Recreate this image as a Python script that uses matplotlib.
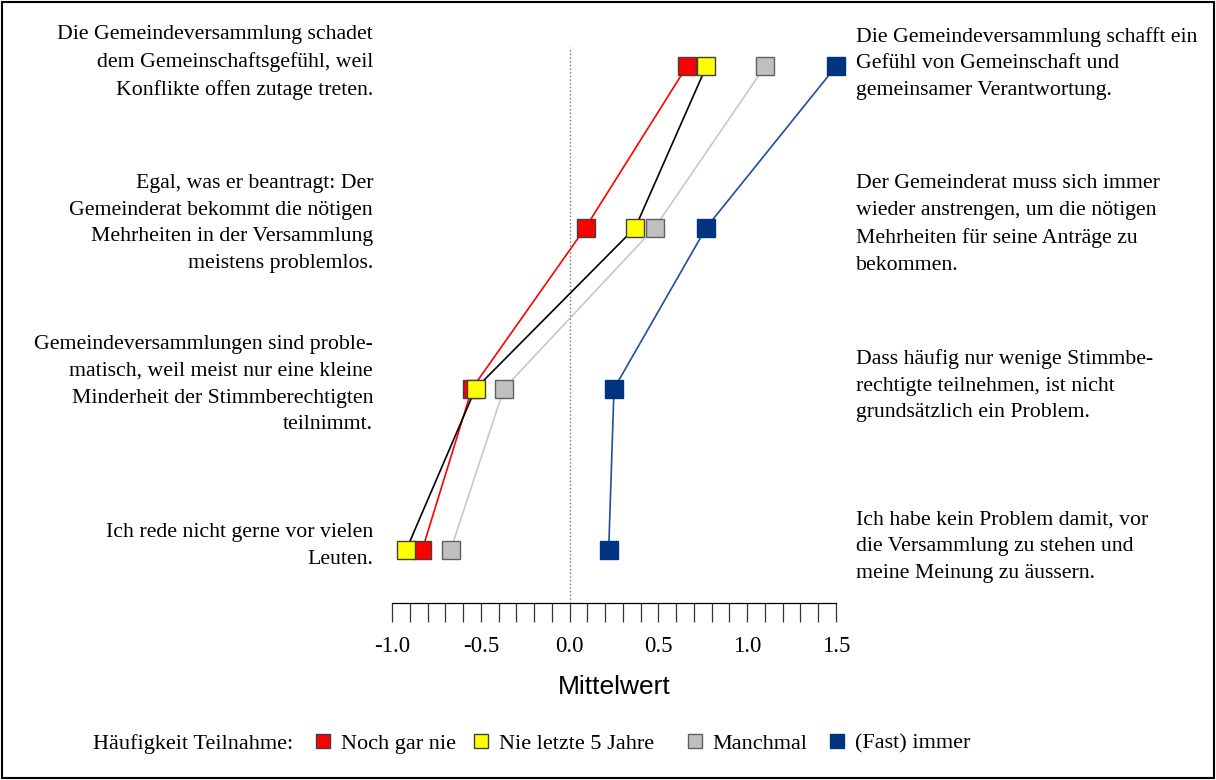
import matplotlib.pyplot as plt
from matplotlib.lines import Line2D
from matplotlib.patches import Rectangle

plt.rcParams['font.family'] = ['Liberation Serif', 'DejaVu Serif']

# items from top to bottom
items = [4, 3, 2, 1]
left_labels = [
    "Die Gemeindeversammlung schadet\ndem Gemeinschaftsgefühl, weil\nKonflikte offen zutage treten.",
    "Egal, was er beantragt: Der\nGemeinderat bekommt die nötigen\nMehrheiten in der Versammlung\nmeistens problemlos.",
    "Gemeindeversammlungen sind proble-\nmatisch, weil meist nur eine kleine\nMinderheit der Stimmberechtigten\nteilnimmt.",
    "Ich rede nicht gerne vor vielen\nLeuten.",
]
right_labels = [
    "Die Gemeindeversammlung schafft ein\nGefühl von Gemeinschaft und\ngemeinsamer Verantwortung.",
    "Der Gemeinderat muss sich immer\nwieder anstrengen, um die nötigen\nMehrheiten für seine Anträge zu\nbekommen.",
    "Dass häufig nur wenige Stimmbe-\nrechtigte teilnehmen, ist nicht\ngrundsätzlich ein Problem.",
    "Ich habe kein Problem damit, vor\ndie Versammlung zu stehen und\nmeine Meinung zu äussern.",
]

groups = ["Noch gar nie", "Nie letzte 5 Jahre", "Manchmal", "(Fast) immer"]
noch_gar_nie = [0.66, 0.09, -0.55, -0.83]
nie_5_jahre = [0.77, 0.37, -0.53, -0.92]
manchmal = [1.10, 0.48, -0.37, -0.67]
fast_immer = [1.50, 0.77, 0.25, 0.22]
series = [noch_gar_nie, nie_5_jahre, manchmal, fast_immer]

line_colors = ['#ff0000', '#000000', '#c8c8c8', '#1f4e9a']
face_colors = ['#ff0000', '#ffff00', '#c0c0c0', '#003380']
edge_colors = ['#404040', '#404040', '#606060', '#003380']

fig = plt.figure(figsize=(12.16, 7.8), dpi=100)
ax = fig.add_axes([0.3224, 0.2269, 0.3651, 0.7128])

ax.axvline(0, color='#777777', linestyle=':', linewidth=1.0, zorder=1)

for vals, lc, fc, ec in zip(series, line_colors, face_colors, edge_colors):
    ax.plot(vals, items, color=lc, linewidth=1.2, marker='s', markersize=12.5,
            markerfacecolor=fc, markeredgecolor=ec, markeredgewidth=1.0,
            clip_on=False, zorder=3)

ax.set_xlim(-1.0, 1.5)
ax.set_ylim(0.67, 4.12)
ax.set_xticks([-1.0, -0.5, 0.0, 0.5, 1.0, 1.5])
ax.set_xticks([x / 10 for x in range(-10, 16)], minor=True)
ax.set_xticklabels(['-1.0', '-0.5', '0.0', '0.5', '1.0', '1.5'], fontsize=16.5)
ax.tick_params(axis='x', which='both', length=14, width=0.9, direction='out',
               color='#333333', pad=10)
ax.set_yticks([])
for s in ['left', 'right', 'top']:
    ax.spines[s].set_visible(False)
ax.spines['bottom'].set_linewidth(0.9)
ax.set_xlabel('Mittelwert', fontsize=19, labelpad=13, family='Liberation Sans')

for y, lt, rt in zip(items, left_labels, right_labels):
    ax.annotate(lt, xy=(0, y), xycoords=('axes fraction', 'data'),
                xytext=(-19, 4), textcoords='offset pixels',
                ha='right', va='center', fontsize=15.7, linespacing=1.55)
    ax.annotate(rt, xy=(1, y), xycoords=('axes fraction', 'data'),
                xytext=(20, 3), textcoords='offset pixels',
                ha='left', va='center', fontsize=15.7, linespacing=1.55)

# legend: one entry per legend so the gaps match the reference
fig.text(0.0765, 0.046, 'Häufigkeit Teilnahme:', fontsize=16, va='center')
legend_x = [0.2582, 0.3882, 0.5641, 0.6809]
for x, g, fc, ec in zip(legend_x, groups, face_colors, edge_colors):
    h = Line2D([], [], linestyle='none', marker='s', markersize=10.5,
               markerfacecolor=fc, markeredgecolor=ec, markeredgewidth=1.0)
    fig.legend([h], [g], loc='center left', bbox_to_anchor=(x, 0.047),
               frameon=False, fontsize=16, handlelength=0.8, borderpad=0,
               borderaxespad=0, handletextpad=0.4)

fig.patches.append(Rectangle((0.002, 0.003), 0.996, 0.994, transform=fig.transFigure,
                             fill=False, edgecolor='black', linewidth=1.5))

fig.savefig('out.png', dpi=100)
